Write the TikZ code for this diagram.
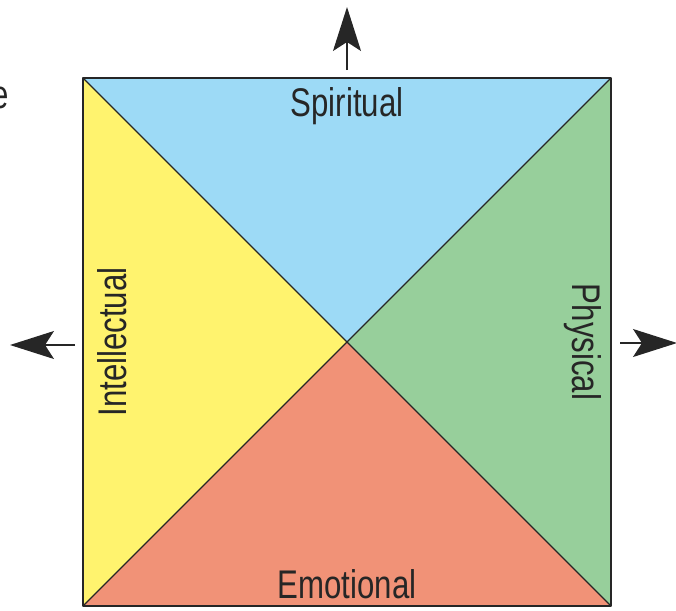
\documentclass[tikz,border=0pt]{standalone}
\usepackage{fontspec}
\setmainfont{Liberation Sans}[FakeStretch=0.78]
\usetikzlibrary{arrows.meta}
\definecolor{spiritblue}{HTML}{9DDAF6}
\definecolor{intelyellow}{HTML}{FFF36E}
\definecolor{physgreen}{HTML}{97CF9B}
\definecolor{emosalmon}{HTML}{F19277}
\tikzset{
  label text/.style={font=\fontsize{40}{44}\selectfont, text=black!85, inner sep=0pt},
  quarter/.style={draw=black!85, line width=1.3pt, line join=round},
  out arrow/.style={line width=1.3pt, black!85, -{Stealth[length=44pt,width=28pt,inset=9pt]}}
}
\begin{document}
\begin{tikzpicture}[x=1pt,y=-1pt]
\useasboundingbox (0,0) rectangle (676,610);
\coordinate (tl) at (83,78);
\coordinate (tr) at (611,78);
\coordinate (br) at (611,606);
\coordinate (bl) at (83,606);
\coordinate (mid) at (347,342);
\fill[spiritblue] (tl)--(tr)--(mid)--cycle;
\fill[intelyellow] (tl)--(mid)--(bl)--cycle;
\fill[physgreen] (tr)--(br)--(mid)--cycle;
\fill[emosalmon] (bl)--(mid)--(br)--cycle;
\draw[quarter] (tl)--(br) (tr)--(bl);
\draw[quarter] (tl) rectangle (br);
\node[label text] (spirit) at (347,106) {Spiritual};
\node[label text] (emo) at (347,584) {Emotional};
\node[label text, rotate=90] (intel) at (112,342) {Intellectual};
\node[label text, rotate=-90] (phys) at (583,342) {Physical};
\node[label text, anchor=east] (frag) at (9,98) {e};
% arrows pointing outward
\coordinate (up0) at (347,70);
\coordinate (up1) at (347,7);
\coordinate (lf0) at (75,345);
\coordinate (lf1) at (10,345);
\coordinate (rt0) at (620,343);
\coordinate (rt1) at (677,343);
\draw[out arrow] (up0)--(up1);
\draw[out arrow] (lf0)--(lf1);
\draw[out arrow] (rt0)--(rt1);
\end{tikzpicture}
\end{document}
